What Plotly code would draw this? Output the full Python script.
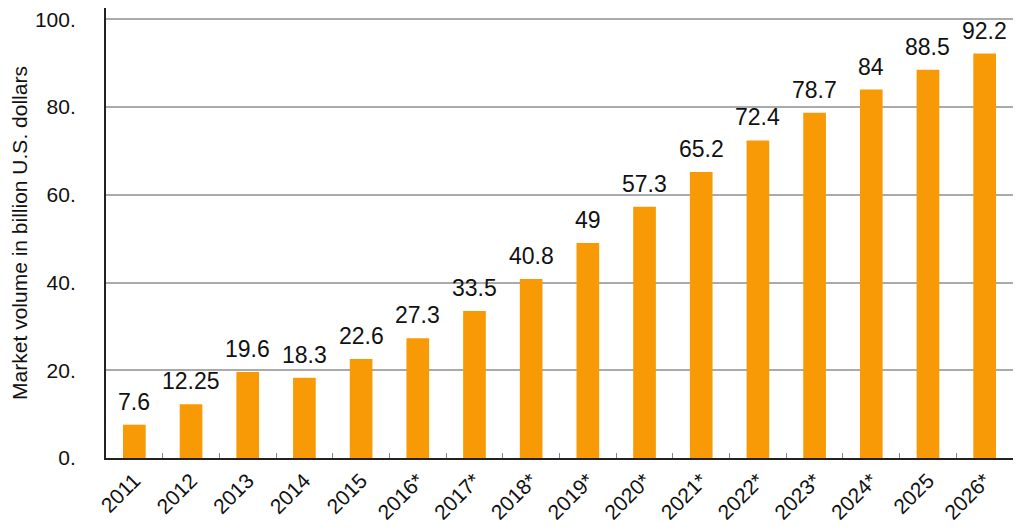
import plotly.graph_objects as go

years = ["2011", "2012", "2013", "2014", "2015", "2016*", "2017*", "2018*", "2019*",
         "2020*", "2021*", "2022*", "2023*", "2024*", "2025", "2026*"]
values = [7.6, 12.25, 19.6, 18.3, 22.6, 27.3, 33.5, 40.8, 49, 57.3, 65.2, 72.4, 78.7, 84, 88.5, 92.2]
labels = ["7.6", "12.25", "19.6", "18.3", "22.6", "27.3", "33.5", "40.8", "49", "57.3",
          "65.2", "72.4", "78.7", "84", "88.5", "92.2"]
y_ticks = [0, 20, 40, 60, 80, 100]
y_tick_text = ["0.", "20.", "40.", "60.", "80.", "100."]

FONT = "Liberation Sans, Arial, sans-serif"
BAR = "#F89A05"

fig = go.Figure()
fig.add_trace(go.Bar(x=years, y=values, marker=dict(color=BAR, line=dict(width=0)),
                     width=0.4, hoverinfo="skip"))

# annotations: category axis positions by index (numeric-looking strings would be misread)
for i, (yv, t) in enumerate(zip(values, labels)):
    fig.add_annotation(x=i, y=yv, text=t, showarrow=False, yanchor="bottom",
                       yshift=8, font=dict(family=FONT, size=23, color="#111111"))

# the page body has an 8px margin, so the figure is sized/offset to compensate
fig.update_layout(
    width=1016, height=524,
    margin=dict(l=98, r=11, t=0, b=74),
    paper_bgcolor="white", plot_bgcolor="white",
    showlegend=False,
    font=dict(family=FONT, color="#111111"),
    xaxis=dict(
        type="category", automargin=False,
        categoryorder="array", categoryarray=years,
        range=[-0.5, len(years) - 0.5],
        showline=True, linecolor="#222222", linewidth=2,
        ticks="inside", tickson="boundaries", ticklen=5, tickcolor="#888888", tickwidth=1,
        tickangle=-45, tickfont=dict(family=FONT, size=21, color="#111111"),
        showgrid=False,
    ),
    yaxis=dict(
        automargin=False,
        range=[0, 102.6],
        tickvals=y_ticks, ticktext=y_tick_text,
        tickfont=dict(family=FONT, size=21, color="#111111"),
        ticklabeloverflow="allow",
        showline=True, linecolor="#222222", linewidth=2,
        showgrid=True, gridcolor="#AAAAAA", gridwidth=1.5,
        zeroline=False,
        ticks="", ticklabelstandoff=24,
        title=dict(text="Market volume in billion U.S. dollars",
                   font=dict(family=FONT, size=21, color="#111111"), standoff=4),
    ),
)

fig.write_html("out.html")
